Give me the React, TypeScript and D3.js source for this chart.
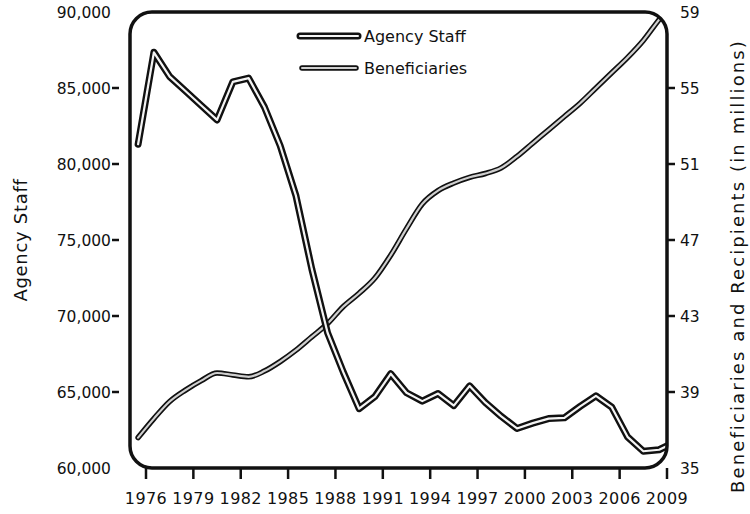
import React from "react";
import * as d3 from "d3";

const years = [1975, 1976, 1977, 1978, 1979, 1980, 1981, 1982, 1983, 1984, 1985, 1986, 1987, 1988, 1989, 1990, 1991, 1992, 1993, 1994, 1995, 1996, 1997, 1998, 1999, 2000, 2001, 2002, 2003, 2004, 2005, 2006, 2007, 2008, 2009];
const agencyStaff = [81300, 87350, 85750, 84800, 83850, 82900, 85400, 85650, 83750, 81200, 77900, 73100, 68900, 66300, 63900, 64700, 66200, 64950, 64400, 64900, 64100, 65400, 64300, 63400, 62600, 62950, 63250, 63300, 64050, 64750, 64000, 62050, 61100, 61200, 61700];
const beneficiaries = [36.6, 37.6, 38.5, 39.1, 39.6, 40.0, 39.9, 39.8, 40.1, 40.6, 41.2, 41.9, 42.6, 43.5, 44.2, 45.0, 46.2, 47.6, 48.9, 49.6, 50.0, 50.3, 50.5, 50.8, 51.4, 52.1, 52.8, 53.5, 54.2, 55.0, 55.8, 56.6, 57.5, 58.6, 59.6];
const xTickYears = [1976, 1979, 1982, 1985, 1988, 1991, 1994, 1997, 2000, 2003, 2006, 2009];
const leftTicks = [60000, 65000, 70000, 75000, 80000, 85000, 90000];
const rightTicks = [35, 39, 43, 47, 51, 55, 59];
const legendLabels = ["Agency Staff", "Beneficiaries"];

const FONT = "'DejaVu Sans', sans-serif";

export default function App() {
  const W = 750, H = 514;
  const left = 130, right = 667, top = 12, bottom = 468;
  const x = d3.scaleLinear().domain([1976, 2009]).range([146, right]);
  const yL = d3.scaleLinear().domain([60000, 90000]).range([bottom, top]);
  const yR = d3.scaleLinear().domain([35, 59]).range([bottom, top]);

  const staffPts = years.map((yr, i) => [x(yr + 0.5), yL(agencyStaff[i])] as [number, number]);
  const benePts = years.map((yr, i) => [x(yr + 0.5), yR(beneficiaries[i])] as [number, number]);
  const staffLine = d3.line().curve(d3.curveLinear)(staffPts) || "";
  const beneLine = d3.line().curve(d3.curveMonotoneX)(benePts) || "";

  const fmt = d3.format(",");

  return (
    <svg width={W} height={H} style={{ position: "absolute", left: 0, top: 0, background: "#fff" }} fontFamily={FONT}>
      <defs>
        <clipPath id="plotClip">
          <rect x={left} y={top} width={right - left} height={bottom - top} rx={22} ry={22} />
        </clipPath>
      </defs>
      <rect x={0} y={0} width={W} height={H} fill="#fff" />

      <g clipPath="url(#plotClip)" strokeLinejoin="round" strokeLinecap="round" fill="none">
        <path d={beneLine} stroke="#111" strokeWidth={5.5} />
        <path d={beneLine} stroke="#cfcfcf" strokeWidth={2.2} />
        <path d={staffLine} stroke="#111" strokeWidth={7} />
        <path d={staffLine} stroke="#f4f4f4" strokeWidth={2.2} />
      </g>

      <rect x={left} y={top} width={right - left} height={bottom - top} rx={22} ry={22} fill="none" stroke="#111" strokeWidth={3.5} />

      {/* left axis */}
      {leftTicks.map((t) => (
        <g key={"l" + t}>
          {t !== 60000 && t !== 90000 && (
            <line x1={112} x2={119} y1={yL(t)} y2={yL(t)} stroke="#111" strokeWidth={2.5} />
          )}
          <text x={111} y={yL(t)} dy="0.36em" textAnchor="end" fontSize={15.5} fill="#111">
            {fmt(t)}
          </text>
        </g>
      ))}

      {/* right axis */}
      {rightTicks.map((t) => (
        <g key={"r" + t}>
          {t !== 35 && t !== 59 && (
            <line x1={right} x2={675} y1={yR(t)} y2={yR(t)} stroke="#111" strokeWidth={2.5} />
          )}
          <text x={680} y={yR(t)} dy="0.36em" textAnchor="start" fontSize={15.5} fill="#111">
            {t}
          </text>
        </g>
      ))}

      {/* bottom axis */}
      {xTickYears.map((t) => (
        <g key={"x" + t}>
          <line x1={x(t)} x2={x(t)} y1={bottom} y2={479} stroke="#111" strokeWidth={2.5} />
          <text x={x(t)} y={504} textAnchor="middle" fontSize={16} letterSpacing={0.4} fill="#111">
            {t}
          </text>
        </g>
      ))}

      {/* axis titles */}
      <text transform="translate(27,240) rotate(-90)" textAnchor="middle" fontSize={18} letterSpacing={0.7} fill="#111">
        Agency Staff
      </text>
      <text transform="translate(744,266) rotate(-90)" textAnchor="middle" fontSize={18} letterSpacing={2.1} fill="#111">
        Beneficiaries and Recipients (in millions)
      </text>

      {/* legend */}
      <g strokeLinecap="round">
        <line x1={300} x2={358} y1={36} y2={36} stroke="#111" strokeWidth={7} />
        <line x1={300} x2={358} y1={36} y2={36} stroke="#f4f4f4" strokeWidth={2} />
        <text x={364} y={42} fontSize={16} fill="#111">{legendLabels[0]}</text>
        <line x1={302} x2={356} y1={68} y2={68} stroke="#111" strokeWidth={5.5} />
        <line x1={302} x2={356} y1={68} y2={68} stroke="#cfcfcf" strokeWidth={2} />
        <text x={364} y={74} fontSize={16} fill="#111">{legendLabels[1]}</text>
      </g>
    </svg>
  );
}
